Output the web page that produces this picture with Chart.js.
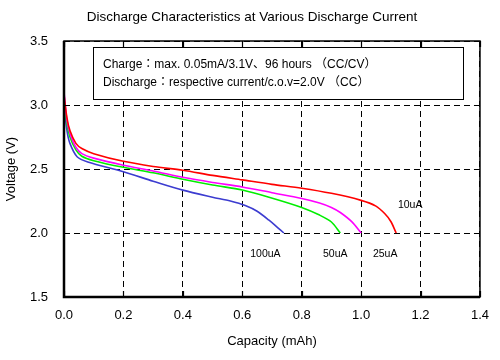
<!DOCTYPE html>
<html>
<head>
<meta charset="utf-8">
<script src="https://cdn.jsdelivr.net/npm/chart.js@4"></script>
<style>
  body { margin: 0; background: #fff; }
  canvas { display: block; }
</style>
</head>
<body>
<canvas id="chartCanvas" width="500" height="360"></canvas>
<script>
const FONT = '"Liberation Sans", Arial, "Noto Sans CJK JP", sans-serif';

// capacity (mAh) / voltage (V)
const cap10 = [0, 0.01, 0.02, 0.04, 0.06, 0.1, 0.2, 0.3, 0.4, 0.5, 0.6, 0.7, 0.8, 0.9, 1.0, 1.05, 1.08, 1.1, 1.118];
const volt10 = [3.08, 2.9, 2.8, 2.7, 2.66, 2.62, 2.56, 2.52, 2.49, 2.45, 2.415, 2.38, 2.35, 2.31, 2.255, 2.21, 2.15, 2.09, 2.0];
const cap25 = [0, 0.01, 0.02, 0.04, 0.06, 0.1, 0.2, 0.3, 0.4, 0.5, 0.6, 0.7, 0.8, 0.86, 0.9, 0.93, 0.97, 1.0];
const volt25 = [3.1, 2.88, 2.78, 2.67, 2.62, 2.585, 2.53, 2.485, 2.435, 2.395, 2.36, 2.315, 2.27, 2.235, 2.2, 2.16, 2.085, 2.0];
const cap50 = [0, 0.01, 0.02, 0.04, 0.06, 0.1, 0.2, 0.3, 0.4, 0.5, 0.6, 0.69, 0.8, 0.86, 0.9, 0.93];
const volt50 = [3.05, 2.85, 2.75, 2.65, 2.6, 2.565, 2.513, 2.47, 2.42, 2.375, 2.336, 2.28, 2.2, 2.14, 2.086, 2.0];
const cap100 = [0, 0.01, 0.02, 0.044, 0.08, 0.2, 0.3, 0.4, 0.5, 0.56, 0.61, 0.65, 0.69, 0.72, 0.74];
const volt100 = [3.0, 2.8, 2.7, 2.596, 2.555, 2.478, 2.405, 2.335, 2.28, 2.25, 2.215, 2.17, 2.1, 2.04, 2.0];

const seriesNames = ['10uA', '25uA', '50uA', '100uA'];
const seriesColors = ['#ff0000', '#ff00ff', '#00ee00', '#3c3cd0'];
// where each current label sits, in data units
const labelCap = [1.165, 1.081, 0.913, 0.678];
const labelVolt = [2.22, 1.836, 1.836, 1.836];

const xTicks = [0, 0.2, 0.4, 0.6, 0.8, 1.0, 1.2, 1.4];
const yTicks = [1.5, 2.0, 2.5, 3.0, 3.5];

const titleText = 'Discharge Characteristics at Various Discharge Current';
const noteLines = [
  'Charge：max. 0.05mA/3.1V、96 hours （CC/CV）',
  'Discharge：respective current/c.o.v=2.0V （CC）'
];

function toPoints(xs, ys) {
  return xs.map((x, i) => ({ x: x, y: ys[i] }));
}

const allData = [toPoints(cap10, volt10), toPoints(cap25, volt25), toPoints(cap50, volt50), toPoints(cap100, volt100)];

const decor = {
  id: 'decor',
  afterDraw(chart) {
    const ctx = chart.ctx;
    const a = chart.chartArea;
    const xs = chart.scales.x, ys = chart.scales.y;
    ctx.save();

    // title
    ctx.fillStyle = '#000';
    ctx.font = '13.5px ' + FONT;
    ctx.textAlign = 'center';
    ctx.textBaseline = 'middle';
    ctx.fillText(titleText, 252, 17);

    // frame
    ctx.strokeStyle = '#000';
    ctx.lineWidth = 1.5;
    ctx.strokeRect(a.left, a.top, a.right - a.left, a.bottom - a.top);
    ctx.lineWidth = 2.5;
    ctx.beginPath();
    ctx.moveTo(a.left, a.top);
    ctx.lineTo(a.left, a.bottom);
    ctx.lineTo(a.right, a.bottom);
    ctx.stroke();

    // inward ticks
    ctx.lineWidth = 1.2;
    ctx.beginPath();
    xTicks.forEach(v => {
      const px = Math.round(xs.getPixelForValue(v)) + 0.5;
      ctx.moveTo(px, a.top); ctx.lineTo(px, a.top + 6);
      ctx.moveTo(px, a.bottom); ctx.lineTo(px, a.bottom - 6);
    });
    yTicks.forEach(v => {
      const py = Math.round(ys.getPixelForValue(v)) + 0.5;
      ctx.moveTo(a.left, py); ctx.lineTo(a.left + 6, py);
      ctx.moveTo(a.right, py); ctx.lineTo(a.right - 6, py);
    });
    ctx.stroke();

    // note box
    ctx.fillStyle = '#fff';
    ctx.fillRect(93, 47, 370, 52);
    ctx.lineWidth = 1;
    ctx.strokeRect(93.5, 47.5, 370, 52);
    ctx.fillStyle = '#000';
    ctx.font = '12px ' + FONT;
    ctx.textAlign = 'left';
    ctx.fillText(noteLines[0], 103, 65);
    ctx.fillText(noteLines[1], 103, 83);

    // current labels
    ctx.font = '10.5px ' + FONT;
    ctx.textAlign = 'center';
    seriesNames.forEach((n, i) => {
      ctx.fillText(n, xs.getPixelForValue(labelCap[i]), ys.getPixelForValue(labelVolt[i]));
    });
    ctx.restore();
  }
};

const ctx = document.getElementById('chartCanvas').getContext('2d');
const chart = new Chart(ctx, {
  type: 'line',
  data: {
    datasets: seriesNames.map((n, i) => ({
      label: n,
      data: allData[i],
      borderColor: seriesColors[i],
      borderWidth: 1.6,
      pointRadius: 0,
      fill: false,
      tension: 0.3
    }))
  },
  options: {
    responsive: false,
    animation: false,
    layout: { padding: { top: 41, right: 19, left: 0, bottom: 0 } },
    plugins: { legend: { display: false }, tooltip: { enabled: false }, title: { display: false } },
    scales: {
      x: {
        type: 'linear',
        min: 0, max: 1.4,
        afterFit(s) { s.height = 63; },
        afterBuildTicks(s) { s.ticks = xTicks.map(v => ({ value: v })); },
        ticks: {
          color: '#000', padding: 11,
          font: { family: FONT, size: 13 },
          callback: v => v.toFixed(1)
        },
        grid: { color: '#000', lineWidth: 1, drawTicks: false },
        border: { display: false, dash: [6, 4] },
        title: { display: true, text: 'Capacity (mAh)', color: '#000', font: { family: FONT, size: 13 }, padding: { top: 0, bottom: 11 } }
      },
      y: {
        type: 'linear',
        min: 1.5, max: 3.5,
        afterFit(s) { s.width = 64; },
        afterBuildTicks(s) { s.ticks = yTicks.map(v => ({ value: v })); },
        ticks: {
          color: '#000', padding: 16,
          font: { family: FONT, size: 13 },
          callback: v => v.toFixed(1)
        },
        grid: { color: '#000', lineWidth: 1, drawTicks: false },
        border: { display: false, dash: [6, 4] },
        title: { display: true, text: 'Voltage (V)', color: '#000', font: { family: FONT, size: 13 }, padding: { top: 4, bottom: 4 } }
      }
    }
  },
  plugins: [decor]
});
</script>
</body>
</html>
